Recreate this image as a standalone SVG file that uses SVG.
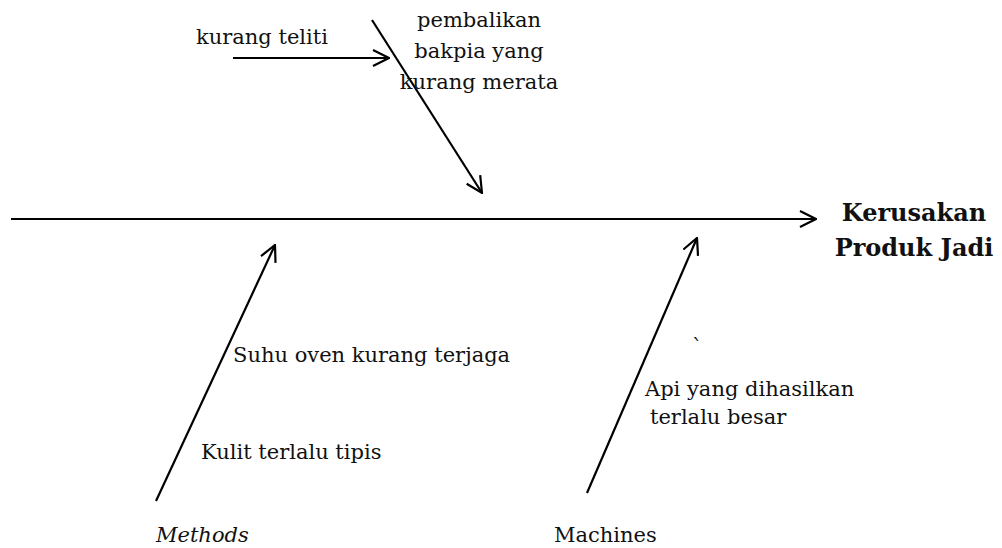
<svg xmlns="http://www.w3.org/2000/svg" width="1002" height="548" viewBox="0 0 1002 548">
<defs>
<style>
.t{font-family:"DejaVu Serif","Liberation Serif",serif;font-size:21px;fill:#111;}
.b{font-family:"DejaVu Serif","Liberation Serif",serif;font-size:24px;font-weight:bold;fill:#111;}
.i{font-style:italic;}
.c{stroke:#000;stroke-width:2.2;fill:none;marker-end:url(#ah);}
</style>
<marker id="ah" markerUnits="userSpaceOnUse" viewBox="0 0 18 18" refX="17" refY="9" markerWidth="18" markerHeight="18" orient="auto">
<path d="M1,1 L17,9 L1,17" fill="none" stroke="#000" stroke-width="2.2"/>
</marker>
</defs>
<rect width="1002" height="548" fill="#fff"/>
<g id="connectors">
<line class="c" x1="11" y1="219" x2="816" y2="219"/>
<line class="c" x1="372" y1="20" x2="482" y2="193"/>
<line class="c" x1="233" y1="58" x2="389" y2="58"/>
<line class="c" x1="156" y1="501" x2="275" y2="245"/>
<line class="c" x1="587" y1="493" x2="697" y2="238"/>
</g>
<g id="effect"><text class="b" text-anchor="middle" x="914" y="221">Kerusakan</text><text class="b" text-anchor="middle" x="914" y="256">Produk Jadi</text></g>
<g id="cause-kurang-teliti"><text class="t" x="196" y="44">kurang teliti</text></g>
<g id="cause-pembalikan"><text class="t" text-anchor="middle" x="479" y="27">pembalikan</text><text class="t" text-anchor="middle" x="479" y="58">bakpia yang</text><text class="t" text-anchor="middle" x="479" y="89">kurang merata</text></g>
<g id="cause-suhu"><text class="t" x="233" y="362">Suhu oven kurang terjaga</text></g>
<g id="cause-kulit"><text class="t" x="201" y="459">Kulit terlalu tipis</text></g>
<g id="cause-api"><text class="t" x="692" y="354">`</text><text class="t" x="645" y="396">Api yang dihasilkan</text><text class="t" x="650" y="424">terlalu besar</text></g>
<g id="category-methods"><text class="t i" x="156" y="542">Methods</text></g>
<g id="category-machines"><text class="t" x="554" y="542">Machines</text></g>
</svg>
